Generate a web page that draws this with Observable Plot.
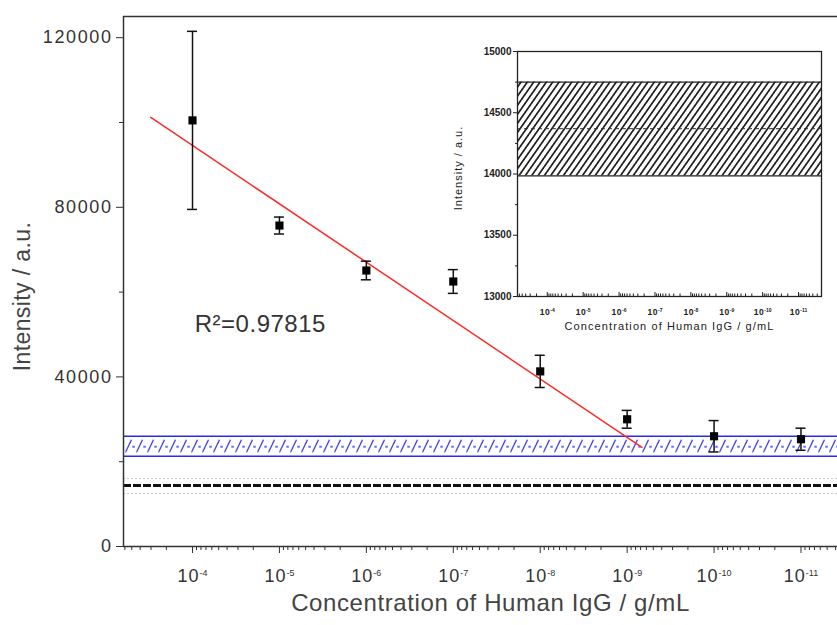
<!DOCTYPE html>
<html><head><meta charset="utf-8">
<script src="https://cdn.jsdelivr.net/npm/d3@7"></script>
<script src="https://cdn.jsdelivr.net/npm/@observablehq/plot@0.6"></script>
<style>
html,body{margin:0;padding:0;background:#fff;overflow:hidden}
#wrap{position:relative;width:837px;height:625px}
#inset{position:absolute;left:440px;top:30px}
</style></head><body>
<div id="wrap"><div id="main"></div><div id="inset"></div></div>
<script>
// ---- data ----
const exponents = [4, 5, 6, 7, 8, 9, 10, 11];               // concentration = 10^-k g/mL
const intensity = [100500, 75700, 65100, 62500, 41300, 30000, 26000, 25300];
const errorBar  = [21000, 2000, 2200, 2800, 3800, 2100, 3700, 2600];
const fitExponent  = [3.52, 9.17];
const fitIntensity = [101200, 23400];
const r2Text = ["R²=0.97815"];
const blueBandEdges = [21300, 26000];
const blankLine = [14370];
const blankFaint = [16050, 12500];
const mainYTicks = [0, 40000, 80000, 120000];
const mainYMinor = [20000, 60000, 100000];
const insetYTicks = [13000, 13500, 14000, 14500, 15000];
const insetYMinor = [13250, 13750, 14250, 14750];
const insetBandEdges = [13985, 14750];
const insetMean = [14370];
const xTitle = "Concentration of Human IgG / g/mL";
const yTitle = "Intensity / a.u.";

const conc = exponents.map(k => 10 ** -k);
const points = conc.map((c, i) => ({c, v: intensity[i], e: errorBar[i]}));
const fit = fitExponent.map((k, i) => ({c: 10 ** -k, v: fitIntensity[i]}));
const fmtExp = d => "10^-" + Math.round(-Math.log10(d));

function minorTicks(dom) {
  const hi = Math.max(...dom), lo = Math.min(...dom), out = [];
  for (let k = 2; k <= 13; k++) for (let m = 2; m <= 9; m++) {
    const v = m * 10 ** -k; if (v <= hi && v >= lo) out.push(v);
  }
  return out;
}
function superscript(svg, sup, dy, ls) {
  d3.select(svg).selectAll("text").each(function () {
    const t = this.textContent;
    if (/^10\^/.test(t) && this.children.length === 0) {
      this.textContent = "";
      const s = d3.select(this);
      s.append("tspan").attr("letter-spacing", ls).text("10");
      s.append("tspan").attr("dy", dy).attr("font-size", sup).text(t.slice(3));
    }
  });
}
function spacing(svg, test, ls) {
  d3.select(svg).selectAll("text").each(function () {
    if (test(this.textContent)) this.setAttribute("letter-spacing", ls);
  });
}
const FONT = "'Liberation Sans', Arial, sans-serif";

// ---- main chart ----
const xDom = [10 ** -3.206, 10 ** -11.42];
const blueBand = [{lo: blueBandEdges[0], hi: blueBandEdges[1]}];
const mainPlot = Plot.plot({
  width: 837, height: 625,
  marginLeft: 123, marginRight: 0, marginTop: 16, marginBottom: 79,
  style: {fontFamily: FONT, color: "#333", background: "white", overflow: "visible"},
  x: {type: "log", domain: xDom, label: null},
  y: {domain: [0, 125000], label: null},
  marks: [
    Plot.rect(blueBand, {x1: xDom[0], x2: xDom[1], y1: "lo", y2: "hi", fill: "url(#blueHatch)"}),
    Plot.ruleY(blueBandEdges, {stroke: "#2b2bf0", strokeWidth: 1.5}),
    Plot.ruleY(blankFaint, {stroke: "#c8c8c8", strokeWidth: 1, strokeDasharray: "2,2"}),
    Plot.ruleY(blankLine, {stroke: "#111", strokeWidth: 3, strokeDasharray: "8,2"}),
    Plot.line(fit, {x: "c", y: "v", stroke: "#ff2a2a", strokeWidth: 1.5}),
    Plot.ruleX(points, {x: "c", y1: d => d.v - d.e, y2: d => d.v + d.e, stroke: "#111", strokeWidth: 1.5}),
    Plot.ruleY(points, {x1: "c", x2: "c", y: d => d.v + d.e, insetLeft: -5, insetRight: -5, stroke: "#111", strokeWidth: 1.5}),
    Plot.ruleY(points, {x1: "c", x2: "c", y: d => d.v - d.e, insetLeft: -5, insetRight: -5, stroke: "#111", strokeWidth: 1.5}),
    Plot.dot(points, {x: "c", y: "v", symbol: "square", r: 4.6, fill: "#000", stroke: null}),
    Plot.ruleX([xDom[0]], {stroke: "#333", strokeWidth: 1.5}),
    Plot.ruleY([0, 125000], {stroke: "#333", strokeWidth: 1.5}),
    Plot.axisY(mainYTicks, {tickSize: 7, tickPadding: 4, fontSize: 18, tickFormat: d => String(d), stroke: "#333", fill: "#333", label: null}),
    Plot.axisY(mainYMinor, {tickSize: 4, tickFormat: () => "", stroke: "#333", label: null}),
    Plot.axisX(conc, {tickSize: 7, tickPadding: 16, fontSize: 18, tickFormat: fmtExp, stroke: "#333", fill: "#333", label: null}),
    Plot.axisX(minorTicks(xDom), {tickSize: 4, tickFormat: () => "", stroke: "#333", label: null}),
    Plot.text(r2Text, {x: 10 ** -4.78, y: 52400, text: d => d, fontSize: 24, fill: "#333"}),
    Plot.text([xTitle], {frameAnchor: "bottom", dx: 10, dy: 64, fontSize: 24, fill: "#444"}),
    Plot.text([yTitle], {frameAnchor: "left", dx: -101, dy: 15, rotate: -90, textAnchor: "middle", fontSize: 23, fill: "#444"})
  ]
});
{
  const ys = mainPlot.scale("y");
  const top = ys.apply(blueBandEdges[1]), bot = ys.apply(blueBandEdges[0]), h = bot - top;
  const W = 11;
  const defs = d3.select(mainPlot).insert("defs", ":first-child");
  const p = defs.append("pattern").attr("id", "blueHatch").attr("patternUnits", "userSpaceOnUse")
    .attr("x", 4).attr("y", top).attr("width", W).attr("height", h);
  p.append("rect").attr("width", W).attr("height", h).attr("fill", "white");
  p.append("path").attr("d", `M0.5,${h - 3.5}L6.5,4`).attr("stroke", "#2b2bf0").attr("stroke-width", 1.2).attr("fill", "none");
  p.append("path").attr("d", `M7.3,${h / 2 + 1}L9.8,${h / 2 + 1}`).attr("stroke", "#2b2bf0").attr("stroke-width", 1.4);
}
superscript(mainPlot, 9, "-0.75em", "1px");
spacing(mainPlot, t => /^\d+$/.test(t), "1.6px");
spacing(mainPlot, t => t === xTitle, "0.6px");
spacing(mainPlot, t => t === yTitle, "0.4px");
spacing(mainPlot, t => t === r2Text[0], "0.5px");
document.getElementById("main").append(mainPlot);

// ---- inset ----
const ixDom = [10 ** -3.17, 10 ** -11.64];
const insetBand = [{lo: insetBandEdges[0], hi: insetBandEdges[1]}];
const insetPlot = Plot.plot({
  width: 390, height: 310,
  marginLeft: 77, marginRight: 9, marginTop: 21, marginBottom: 44,
  style: {fontFamily: FONT, color: "#222", background: "transparent", overflow: "visible"},
  x: {type: "log", domain: ixDom, label: null},
  y: {domain: [13000, 15000], label: null},
  marks: [
    Plot.rect(insetBand, {x1: ixDom[0], x2: ixDom[1], y1: "lo", y2: "hi", fill: "url(#blackHatch)"}),
    Plot.ruleY(insetBandEdges, {stroke: "#222", strokeWidth: 1.3}),
    Plot.ruleY(insetMean, {stroke: "#333", strokeWidth: 1, strokeDasharray: "4,3"}),
    Plot.frame({stroke: "#222", strokeWidth: 1.3}),
    Plot.axisY(insetYTicks, {tickSize: 4, tickPadding: 2, fontSize: 10, fontWeight: "bold", tickFormat: d => String(d), stroke: "#222", fill: "#222", label: null}),
    Plot.axisY(insetYMinor, {tickSize: 2, tickFormat: () => "", stroke: "#222", label: null}),
    Plot.axisX(conc, {tickSize: 0, tickPadding: 12, fontSize: 8.5, fontWeight: "bold", tickFormat: fmtExp, fill: "#222", label: null}),
    Plot.axisX(conc, {tickSize: -4, tickFormat: () => "", stroke: "#222", label: null}),
    Plot.axisX(minorTicks(ixDom), {tickSize: -2.5, tickFormat: () => "", stroke: "#222", label: null}),
    Plot.text([xTitle], {frameAnchor: "bottom", dy: 33, fontSize: 11, fill: "#222"}),
    Plot.text([yTitle], {frameAnchor: "left", dx: -59, dy: -6, rotate: -90, textAnchor: "middle", fontSize: 11, fill: "#222"})
  ]
});
{
  const defs = d3.select(insetPlot).insert("defs", ":first-child");
  const p = defs.append("pattern").attr("id", "blackHatch").attr("patternUnits", "userSpaceOnUse")
    .attr("width", 5.2).attr("height", 10).attr("patternTransform", "rotate(35)");
  p.append("rect").attr("width", 5.2).attr("height", 10).attr("fill", "white");
  p.append("line").attr("x1", 2.6).attr("x2", 2.6).attr("y1", -1).attr("y2", 11).attr("stroke", "#111").attr("stroke-width", 1.6);
}
superscript(insetPlot, 5, "-0.6em", "0.5px");
spacing(insetPlot, t => t === xTitle, "1.1px");
spacing(insetPlot, t => t === yTitle, "1px");
document.getElementById("inset").append(insetPlot);
</script>
</body></html>
